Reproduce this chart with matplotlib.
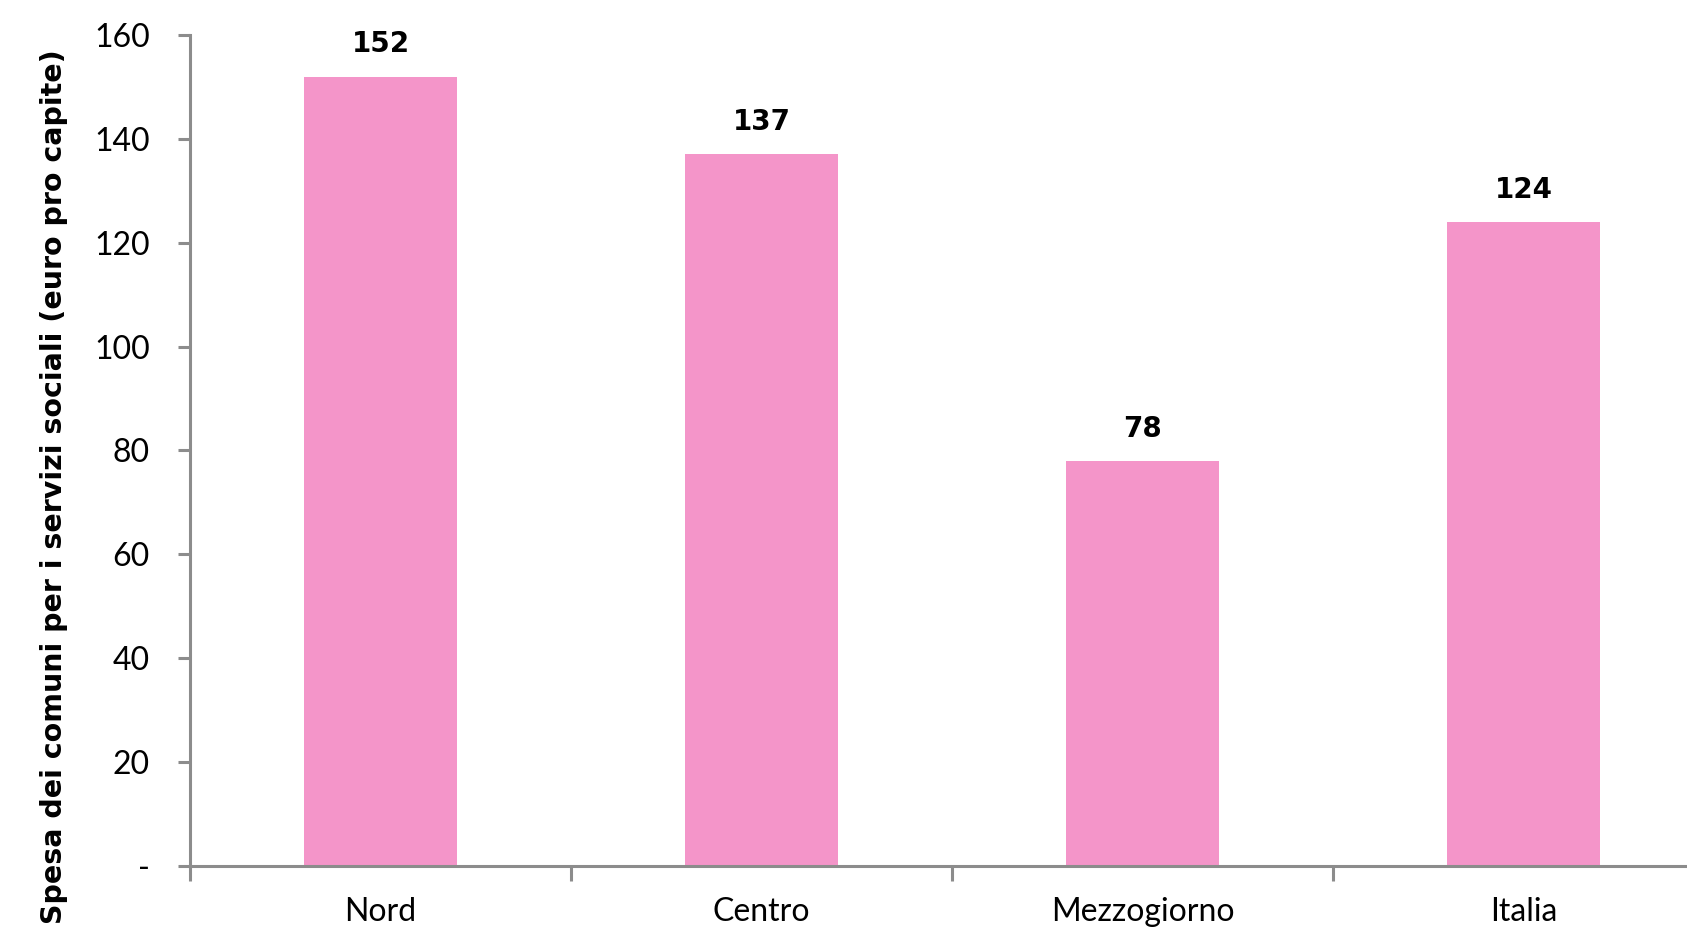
import matplotlib
matplotlib.use("Agg")
import matplotlib.pyplot as plt
from matplotlib.ticker import FixedLocator, FuncFormatter

categories = ["Nord", "Centro", "Mezzogiorno", "Italia"]
values = [152, 137, 78, 124]
yticks = [0, 20, 40, 60, 80, 100, 120, 140, 160]
ylabel = "Spesa dei comuni per i servizi sociali (euro pro capite)"

bar_color = "#F495C9"
axis_color = "#8C8C8C"

plt.rcParams['font.family'] = ['Lato', 'DejaVu Sans']

fig = plt.figure(figsize=(16.87, 9.30), dpi=100)
W, H = 1687, 930
left_px, right_px, top_px, bottom_px = 190, 1687, 35, 866
ax = fig.add_axes([left_px / W, (H - bottom_px) / H, (right_px - left_px) / W, (bottom_px - top_px) / H])

x = list(range(len(categories)))
ax.bar(x, values, width=0.40, color=bar_color, zorder=2)

ax.set_ylim(0, 160)
ax.set_xlim(-0.5, -0.5 + (right_px - left_px) / 381.0)

for s in ["top", "right"]:
    ax.spines[s].set_visible(False)
for s in ["left", "bottom"]:
    ax.spines[s].set_color(axis_color)
    ax.spines[s].set_linewidth(2.2)

ax.set_yticks(yticks)
ax.yaxis.set_major_formatter(FuncFormatter(lambda v, p: "-" if v == 0 else f"{int(v)}"))
ax.tick_params(axis="y", length=9, width=2.2, color=axis_color, labelsize=23, pad=20)

ax.set_xticks(x)
ax.set_xticklabels(categories)
ax.tick_params(axis="x", which="major", length=0, labelsize=23, pad=22)
ax.xaxis.set_minor_locator(FixedLocator([i - 0.5 for i in range(len(categories) + 1)]))
ax.tick_params(axis="x", which="minor", length=11, width=2.2, color=axis_color)

for xi, v in zip(x, values):
    ax.annotate(f"{v}", (xi, v), xytext=(0, 13), textcoords="offset points",
                ha="center", va="bottom", fontsize=20, fontweight="bold",
                family="DejaVu Sans")

fig.text(54 / W, 1 - 487 / H, ylabel, rotation=90, ha="center", va="center",
         fontsize=20.5, fontweight="bold", family="DejaVu Sans")

fig.savefig("out.png", dpi=100)
